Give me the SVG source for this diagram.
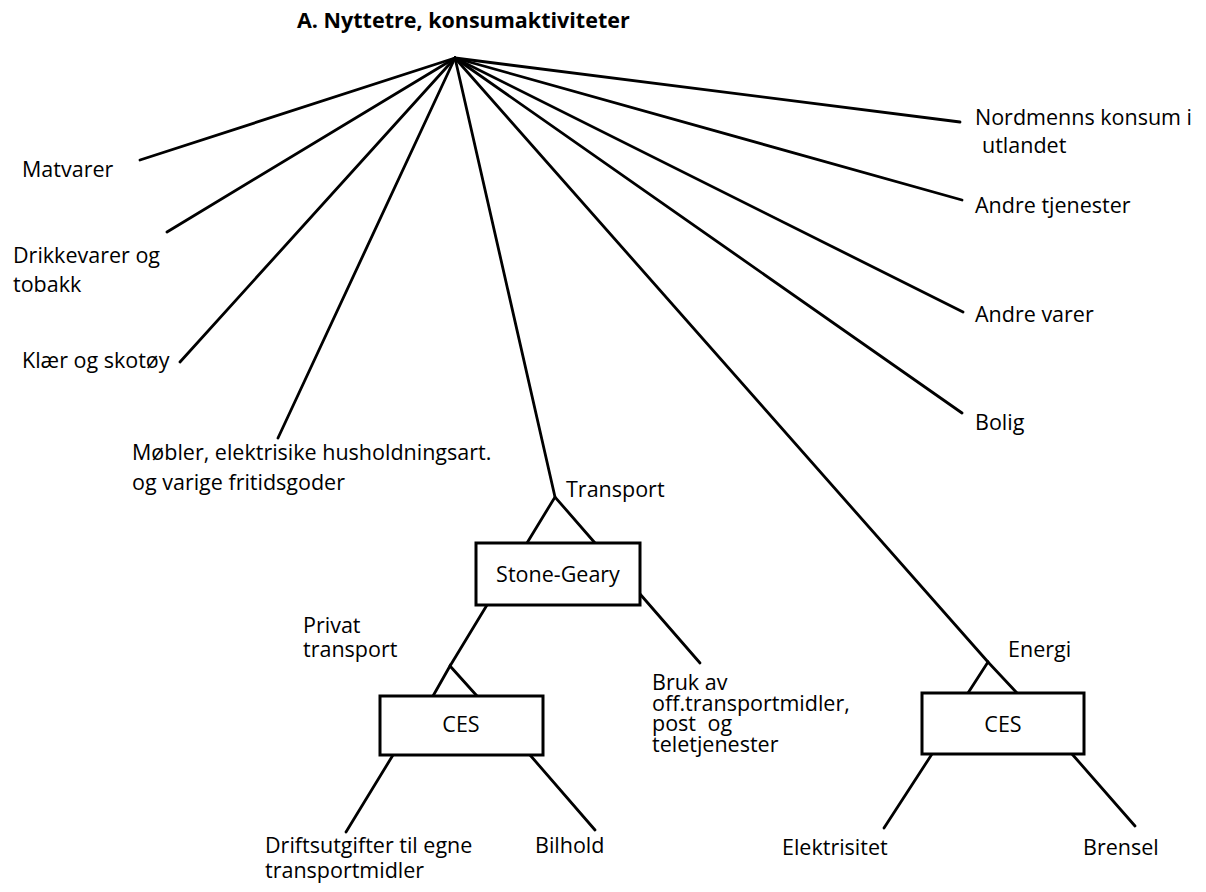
<svg xmlns="http://www.w3.org/2000/svg" width="1206" height="892" viewBox="0 0 1206 892">
  <style>
    .ln { stroke: #000; stroke-width: 2.8; fill: none; stroke-linecap: round; }
    .box { stroke: #000; stroke-width: 3; fill: #fff; }
    text { font-family: "Open Sans", "Liberation Sans", sans-serif; font-size: 21.5px; fill: #000; }
    .title { font-weight: bold; font-size: 21.5px; }
    .mid { text-anchor: middle; }
  </style>
  <rect width="1206" height="892" fill="#fff"/>

  <!-- connectors -->
  <g id="connectors">
    <!-- branches from the root -->
    <line class="ln" x1="455" y1="58" x2="140" y2="160"/>
    <line class="ln" x1="455" y1="58" x2="167" y2="232"/>
    <line class="ln" x1="455" y1="58" x2="180" y2="362"/>
    <line class="ln" x1="455" y1="58" x2="278" y2="438"/>
    <line class="ln" x1="455" y1="58" x2="555" y2="497"/>
    <line class="ln" x1="455" y1="58" x2="988" y2="662"/>
    <line class="ln" x1="455" y1="58" x2="962" y2="413"/>
    <line class="ln" x1="455" y1="58" x2="963" y2="312"/>
    <line class="ln" x1="455" y1="58" x2="962" y2="200"/>
    <line class="ln" x1="455" y1="58" x2="960" y2="122"/>
    <!-- transport nest -->
    <polyline class="ln" points="527,543 555,497 595,543"/>
    <line class="ln" x1="487" y1="605" x2="450" y2="666"/>
    <line class="ln" x1="640" y1="594" x2="700" y2="663"/>
    <polyline class="ln" points="433,696 450,666 477,696"/>
    <line class="ln" x1="393" y1="755" x2="346" y2="832"/>
    <line class="ln" x1="530" y1="755" x2="595" y2="830"/>
    <!-- energy nest -->
    <polyline class="ln" points="968,693 988,662 1017,693"/>
    <line class="ln" x1="932" y1="754" x2="884" y2="828"/>
    <line class="ln" x1="1072" y1="754" x2="1135" y2="826"/>
  </g>

  <g id="root">
    <text class="title" x="297" y="28">A. Nyttetre, konsumaktiviteter</text>
  </g>

  <g id="matvarer"><text x="22" y="177">Matvarer</text></g>
  <g id="drikkevarer">
    <text x="13" y="263">Drikkevarer og</text>
    <text x="13" y="292">tobakk</text>
  </g>
  <g id="klaer"><text x="22" y="368">Klær og skotøy</text></g>
  <g id="mobler">
    <text x="132" y="460">Møbler, elektrisike husholdningsart.</text>
    <text x="132" y="490">og varige fritidsgoder</text>
  </g>

  <g id="transport">
    <text x="566" y="497">Transport</text>
  </g>
  <g id="stone-geary">
    <rect class="box" x="476" y="543" width="164" height="62"/>
    <text class="mid" x="558" y="582">Stone-Geary</text>
  </g>
  <g id="privat-transport">
    <text x="303" y="633">Privat</text>
    <text x="303" y="657">transport</text>
  </g>
  <g id="ces-transport">
    <rect class="box" x="380" y="696" width="163" height="59"/>
    <text class="mid" x="461" y="732">CES</text>
  </g>
  <g id="offentlig-transport">
    <text x="652" y="690">Bruk av</text>
    <text x="652" y="711">off.transportmidler,</text>
    <text x="652" y="731" word-spacing="6">post og</text>
    <text x="652" y="752">teletjenester</text>
  </g>
  <g id="driftsutgifter">
    <text x="265" y="853">Driftsutgifter til egne</text>
    <text x="265" y="878">transportmidler</text>
  </g>
  <g id="bilhold"><text x="535" y="853">Bilhold</text></g>

  <g id="energi"><text x="1008" y="657">Energi</text></g>
  <g id="ces-energi">
    <rect class="box" x="922" y="693" width="162" height="61"/>
    <text class="mid" x="1003" y="732">CES</text>
  </g>
  <g id="elektrisitet"><text x="782" y="855">Elektrisitet</text></g>
  <g id="brensel"><text x="1083" y="855">Brensel</text></g>

  <g id="bolig"><text x="975" y="430">Bolig</text></g>
  <g id="andre-varer"><text x="975" y="322">Andre varer</text></g>
  <g id="andre-tjenester"><text x="975" y="213">Andre tjenester</text></g>
  <g id="nordmenns">
    <text x="975" y="125">Nordmenns konsum i</text>
    <text x="982" y="153">utlandet</text>
  </g>
</svg>
